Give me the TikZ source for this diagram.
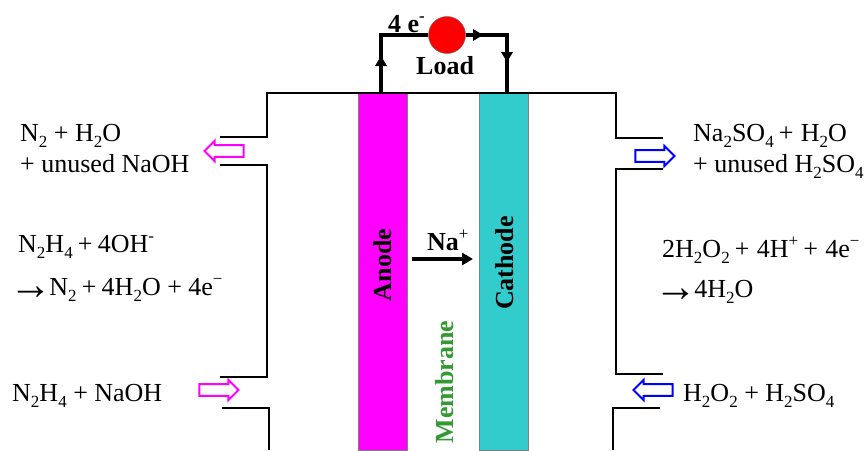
\documentclass[tikz,border=0pt]{standalone}
\usepackage{fontspec}
\setmainfont{Liberation Serif}
\usetikzlibrary{shapes.arrows,arrows.meta}
\definecolor{anodecol}{RGB}{255,0,255}
\definecolor{cathodecol}{RGB}{51,204,204}
\definecolor{membranecol}{RGB}{51,153,51}
\definecolor{flowblue}{RGB}{0,0,255}
\newcommand{\sbs}[1]{\raisebox{-0.25em}{\fontsize{17}{17}\selectfont #1}}
\newcommand{\sps}[1]{\raisebox{0.42em}{\fontsize{17}{17}\selectfont #1}}
\newcommand{\bsp}{\hspace{0.2em}}
\newcommand{\asp}{\hspace{0.28em}}
\newcommand{\arrowtxt}{\makebox[27pt]{\raisebox{-0.17em}{\scalebox{1.65}[1.7]{→}}}}
\tikzset{
  wall/.style={draw=black,line width=2pt,line join=miter},
  wire/.style={draw=black,line width=3.6pt,line join=miter},
  electrode/.style={draw=gray,line width=0.6pt,minimum width=49pt,minimum height=357pt,inner sep=0pt,anchor=north west},
  rtxt/.style={font=\fontsize{26}{28}\selectfont,anchor=base west,inner sep=0pt},
  btxt/.style={font=\fontsize{26}{28}\selectfont\bfseries,inner sep=0pt},
  flow/.style={single arrow,draw=#1,fill=white,line width=2pt,minimum height=39pt,minimum width=20pt,inner sep=4pt,single arrow head extend=3.5pt,anchor=center}
}
\begin{document}
\begin{tikzpicture}[x=1pt,y=-1pt]
\useasboundingbox (0,0) rectangle (865,450);
\fill[white] (0,0) rectangle (865,450);
% electrodes
\node[electrode,fill=anodecol] (anode) at (358,93) {};
\node[electrode,fill=cathodecol] (cathode) at (479,93) {};
% cell walls
\draw[wall] (220,137) -- (267,137) -- (267,93) -- (616,93) -- (616,138) -- (663,138);
\draw[wall] (220,165) -- (267,165) -- (267,377) -- (220,377);
\draw[wall] (222,408) -- (269,408) -- (269,450);
\draw[wall] (663,169) -- (616,169) -- (616,374) -- (663,374);
\draw[wall] (660,408) -- (613,408) -- (613,450);
% circuit
\node[circle,draw=black!60,line width=0.4pt,fill=red,minimum size=37pt,inner sep=0pt] (load) at (447,35) {};
\coordinate (aup) at (381,93);
\coordinate (cup) at (507,93);
\coordinate (ac) at (381,35);
\coordinate (cc) at (507,35);
\draw[wire] (aup) -- (ac) -- (load);
\draw[wire] (load) -- (cc) -- (cup);
\fill (381,56) -- (387,66) -- (375,66) -- cycle;
\fill (483,35) -- (473,29) -- (473,41) -- cycle;
\fill (507,62) -- (501,52) -- (513,52) -- cycle;
\node[btxt,anchor=base west] (fe) at (388,32) {4 e\sps{-}};
\node[btxt,anchor=base west] (ll) at (416,74) {Load};
% rotated labels
\node[btxt,rotate=90] (an) at (383,265) {Anode};
\node[btxt,rotate=90] (ca) at (505,263) {Cathode};
\node[btxt,rotate=90,text=membranecol] (me) at (445,382) {Membrane};
\node[btxt,anchor=base west] (na) at (427,250) {Na\sps{\mdseries +}};
\coordinate (nas) at (412,259);
\coordinate (nae) at (473,259);
\draw[line width=3.2pt,-{Triangle[length=11pt,width=12pt]}] (nas) -- (nae);
% flow arrows
\node[flow=anodecol,shape border rotate=180] (f1) at (227,151) {};
\node[flow=flowblue] (f2) at (652,156) {};
\node[flow=anodecol] (f3) at (216,390) {};
\node[flow=flowblue,shape border rotate=180] (f4) at (656,390) {};
% left text
\node[rtxt] (t1) at (20,141) {N\sbs{2} + H\sbs{2}O};
\node[rtxt] (t2) at (20,172) {+ unused NaOH};
\node[rtxt] (t3) at (18,252) {N\sbs{2}H\sbs{4}\bsp+\bsp4OH\sps{-}};
\node[rtxt] (t4) at (17,295) {\arrowtxt\bsp N\sbs{2}\bsp+\bsp4H\sbs{2}O + 4e\sps{−}};
\node[rtxt] (t5) at (12,401) {N\sbs{2}H\sbs{4} + NaOH};
% right text
\node[rtxt] (t6) at (693,141) {Na\sbs{2}SO\sbs{4}\bsp+\asp H\sbs{2}O};
\node[rtxt] (t7) at (693,172) {+ unused H\sbs{2}SO\sbs{4}};
\node[rtxt] (t8) at (662,257) {2H\sbs{2}O\sbs{2}\bsp+\asp4H\sps{+}\bsp+\asp4e\sps{−}};
\node[rtxt] (t9) at (662,297) {\arrowtxt\bsp 4H\sbs{2}O};
\node[rtxt] (t10) at (683,401) {H\sbs{2}O\sbs{2} + H\sbs{2}SO\sbs{4}};
\end{tikzpicture}
\end{document}
